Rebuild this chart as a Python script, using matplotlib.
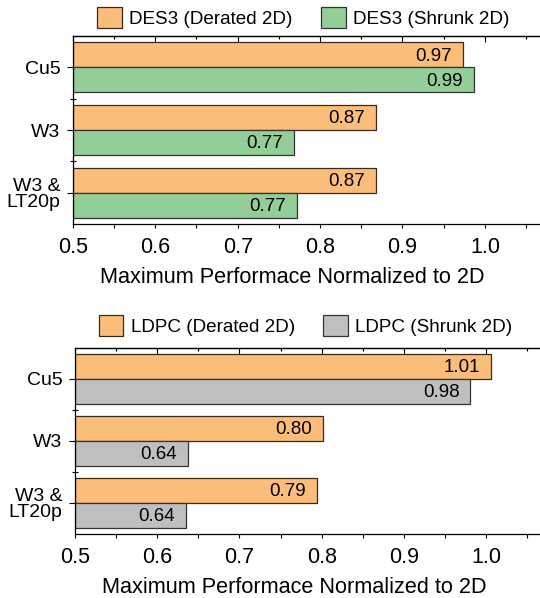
import matplotlib
matplotlib.use("Agg")
import matplotlib.pyplot as plt
from matplotlib.ticker import MultipleLocator, FixedLocator, NullFormatter

plt.rcParams["font.family"] = ["Liberation Sans", "DejaVu Sans"]

CATEGORIES = ["Cu5", "W3", "W3 &\nLT20p"]

DES3_DERATED = [0.973, 0.868, 0.868]
DES3_SHRUNK = [0.987, 0.768, 0.772]
LDPC_DERATED = [1.006, 0.802, 0.794]
LDPC_SHRUNK = [0.981, 0.637, 0.635]

ORANGE = "#fbbd7a"
GREEN = "#93cd97"
GRAY = "#bfbfbf"
EDGE = "#3a2a1a"
XLABEL = "Maximum Performace Normalized to 2D"


def panel(fig, rect, first, second, names, colors, leg_anchor):
    ax = fig.add_axes(rect)
    ys = list(range(len(CATEGORIES)))
    h = 0.4
    b1 = ax.barh([y - h / 2 for y in ys], [v - 0.5 for v in first], left=0.5,
                 height=h, color=colors[0], edgecolor=EDGE, linewidth=0.9,
                 label=names[0])
    b2 = ax.barh([y + h / 2 for y in ys], [v - 0.5 for v in second], left=0.5,
                 height=h, color=colors[1], edgecolor="#333333", linewidth=0.9,
                 label=names[1])
    for vals, off in ((first, -h / 2), (second, h / 2)):
        for y, v in zip(ys, vals):
            ax.annotate(f"{v:.2f}", (v, y + off), xytext=(-8, -1),
                        textcoords="offset points", ha="right", va="center",
                        fontsize=13.5)
    ax.set_xlim(0.5, 1.08)
    ax.set_ylim(2.5, -0.5)
    ax.set_yticks(ys)
    ax.set_yticklabels(CATEGORIES, fontsize=14, ha="right", linespacing=0.95)
    ax.yaxis.set_minor_locator(FixedLocator([0.5, 1.5]))
    ax.xaxis.set_major_locator(MultipleLocator(0.1))
    ax.xaxis.set_minor_locator(MultipleLocator(0.05))
    ax.set_xticklabels([f"{t:.1f}" for t in ax.get_xticks()], fontsize=15.5)
    ax.tick_params(axis="x", which="both", direction="out", length=3,
                   width=0.8)
    ax.tick_params(axis="x", which="major", pad=6)
    ax.tick_params(axis="y", which="major", direction="out", length=4,
                   width=0.8, pad=5, right=True)
    ax.tick_params(axis="y", which="minor", direction="inout", length=5,
                   width=0.8)
    top = ax.secondary_xaxis("top")
    top.xaxis.set_major_locator(MultipleLocator(0.1))
    top.xaxis.set_minor_locator(MultipleLocator(0.05))
    top.xaxis.set_major_formatter(NullFormatter())
    top.tick_params(which="major", direction="in", length=4, width=0.8)
    top.tick_params(which="minor", direction="in", length=2.5, width=0.8)
    top.spines["top"].set_linewidth(0.9)
    for s in ax.spines.values():
        s.set_linewidth(0.9)
    ax.set_xlabel(XLABEL, fontsize=15.6)
    ax.xaxis.set_label_coords(0.46, -0.23)
    fig.legend(handles=[b1, b2], loc="center", bbox_to_anchor=leg_anchor,
               ncol=2, frameon=False, fontsize=13.6, handlelength=1.3,
               handleheight=1.3, handletextpad=0.4, columnspacing=1.5)
    return ax


def main():
    fig = plt.figure(figsize=(5.4, 5.98), dpi=100)
    panel(fig, [0.135, 0.6254, 0.885, 0.3144], DES3_DERATED, DES3_SHRUNK,
          ["DES3 (Derated 2D)", "DES3 (Shrunk 2D)"], [ORANGE, GREEN],
          (0.562, 0.971))
    panel(fig, [0.139, 0.107, 0.883, 0.3116], LDPC_DERATED, LDPC_SHRUNK,
          ["LDPC (Derated 2D)", "LDPC (Shrunk 2D)"], [ORANGE, GRAY],
          (0.566, 0.456))
    fig.savefig("out.png", dpi=100)


if __name__ == "__main__":
    main()
